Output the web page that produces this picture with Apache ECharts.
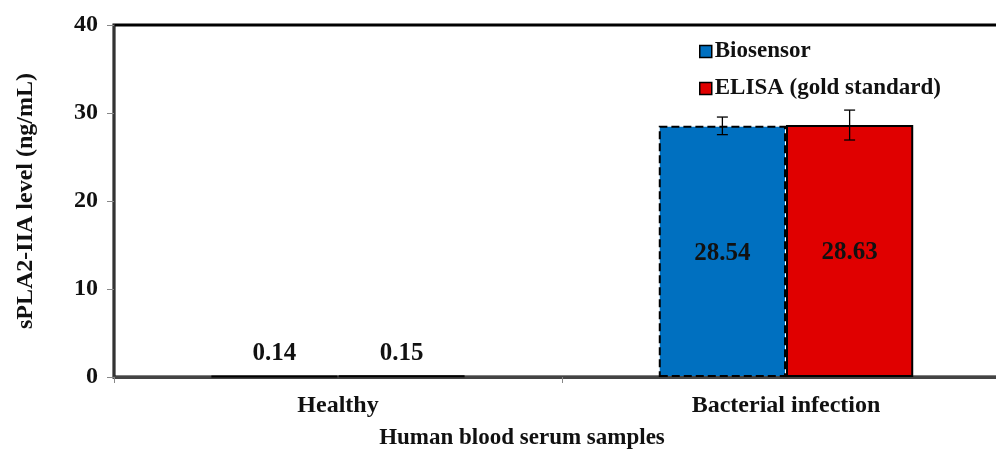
<!DOCTYPE html>
<html>
<head>
<meta charset="utf-8">
<script src="https://cdn.jsdelivr.net/npm/echarts@6/dist/echarts.min.js"></script>
<style>
  html, body { margin: 0; padding: 0; background: #fff; }
  #chart { width: 996px; height: 450px; }
</style>
</head>
<body>
<div id="chart"></div>
<script>
const categories = ['Healthy', 'Bacterial infection']
const biosensor = [0.14, 28.54]
const elisa = [0.15, 28.63]
const biosensorErr = [0, 1.0]
const elisaErr = [0, 1.7]
const yTicks = [0, 10, 20, 30, 40]

const FONT = "'Liberation Serif', 'Times New Roman', serif"
const BAR_FRACTION = 0.284

const chart = echarts.init(document.getElementById('chart'), null, { renderer: 'canvas' })

function labelFor(value) {
  // small bars get their number above, tall ones inside
  return value < 5
    ? { show: true, position: 'top', distance: 9 }
    : { show: true, position: 'inside', offset: [0, 2] }
}

function errorBars(values, errs, side) {
  return {
    type: 'custom',
    z: 5,
    silent: true,
    data: values.map((v, i) => [i, v, errs[i]]),
    renderItem(params, api) {
      const err = api.value(2)
      if (!err) return null
      const cat = api.value(0)
      const val = api.value(1)
      const catWidth = api.size([1, 0])[0]
      const shift = side * catWidth * BAR_FRACTION / 2
      const hi = api.coord([cat, val + err])
      const lo = api.coord([cat, val - err])
      const x = hi[0] + shift
      const cap = 5.5
      const style = { stroke: '#000', lineWidth: 1.3 }
      return {
        type: 'group',
        children: [
          { type: 'line', shape: { x1: x, y1: hi[1], x2: x, y2: lo[1] }, style },
          { type: 'line', shape: { x1: x - cap, y1: hi[1], x2: x + cap, y2: hi[1] }, style },
          { type: 'line', shape: { x1: x - cap, y1: lo[1], x2: x + cap, y2: lo[1] }, style },
        ],
      }
    },
  }
}

chart.setOption({
  backgroundColor: '#fff',
  animation: false,
  textStyle: { fontFamily: FONT },
  grid: {
    left: 114, right: -14, top: 25, bottom: 73,
    outerBoundsMode: 'none',
    containLabel: false,
    show: true, borderColor: '#000', borderWidth: 3, backgroundColor: 'transparent',
  },
  legend: {
    orient: 'vertical',
    left: 694, top: 35,
    itemWidth: 12, itemHeight: 12, itemGap: 14,
    icon: 'rect',
    data: ['Biosensor', 'ELISA (gold standard)'],
    textStyle: { fontFamily: FONT, fontWeight: 'bold', fontSize: 23, color: '#111', padding: [0, 0, 0, -2] },
    itemStyle: { borderColor: '#000', borderWidth: 1.5 },
  },
  xAxis: {
    type: 'category',
    data: categories,
    name: 'Human blood serum samples',
    nameLocation: 'middle',
    nameGap: 50,
    nameTextStyle: { fontFamily: FONT, fontWeight: 'bold', fontSize: 23, color: '#111', padding: [0, 80, 0, 0] },
    axisLine: { lineStyle: { color: '#444', width: 3 } },
    axisTick: { show: true, length: 6, lineStyle: { color: '#888' } },
    axisLabel: { fontFamily: FONT, fontWeight: 'bold', fontSize: 24, color: '#111', margin: 17 },
  },
  yAxis: {
    type: 'value',
    min: 0, max: 40, interval: 10,
    name: 'sPLA2-IIA level (ng/mL)',
    nameLocation: 'middle',
    nameGap: 76,
    nameTextStyle: { fontFamily: FONT, fontWeight: 'bold', fontSize: 24, color: '#111' },
    axisLine: { show: true, lineStyle: { color: '#333', width: 2 } },
    axisTick: { show: true, length: 7, lineStyle: { color: '#888' } },
    splitLine: { show: false },
    axisLabel: {
      fontFamily: FONT, fontWeight: 'bold', fontSize: 24, color: '#111', margin: 16,
      formatter: (v) => (yTicks.includes(v) ? String(v) : ''),
    },
  },
  series: [
    {
      name: 'Biosensor',
      type: 'bar',
      barWidth: (BAR_FRACTION * 100) + '%',
      barGap: '0%',
      data: biosensor.map((v) => ({
        value: v,
        label: labelFor(v),
        itemStyle: { borderType: v < 5 ? 'solid' : 'dashed' },
      })),
      itemStyle: { color: '#0070c0', borderColor: '#000', borderWidth: 2 },
      label: { fontFamily: FONT, fontWeight: 'bold', fontSize: 25, color: '#111' },
    },
    {
      name: 'ELISA (gold standard)',
      type: 'bar',
      barWidth: (BAR_FRACTION * 100) + '%',
      barGap: '0%',
      data: elisa.map((v) => ({ value: v, label: labelFor(v) })),
      itemStyle: { color: '#e00000', borderColor: '#000', borderWidth: 2 },
      label: { fontFamily: FONT, fontWeight: 'bold', fontSize: 25, color: '#111' },
    },
    errorBars(biosensor, biosensorErr, -1),
    errorBars(elisa, elisaErr, 1),
  ],
})
</script>
</body>
</html>
